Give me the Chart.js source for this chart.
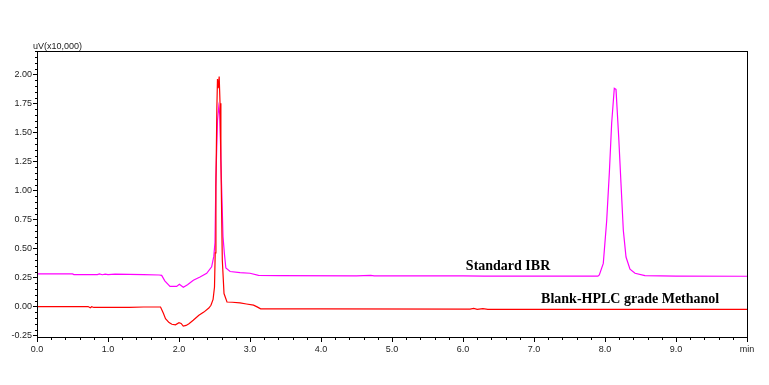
<!DOCTYPE html>
<html>
<head>
<meta charset="utf-8">
<script src="https://cdn.jsdelivr.net/npm/chart.js@4.4.0/dist/chart.umd.min.js"></script>
<style>
  body { margin: 0; background: #fff; }
</style>
</head>
<body>
<canvas id="myChart" width="769" height="385"></canvas>
<script>
const blankTime = [0.00, 0.72, 0.75, 0.77, 0.80, 1.30, 1.50, 1.74, 1.78, 1.81, 1.86, 1.90, 1.95, 2.00, 2.03, 2.06, 2.10, 2.14, 2.20, 2.28, 2.35, 2.42, 2.45, 2.48, 2.50, 2.51, 2.52, 2.533, 2.542, 2.552, 2.566, 2.578, 2.59, 2.61, 2.634, 2.676, 2.75, 2.86, 2.95, 3.05, 3.10, 3.15, 4.00, 6.10, 6.15, 6.20, 6.28, 6.35, 8.00, 10.0];
const blankSignal = [-0.002, -0.002, -0.012, -0.003, -0.01, -0.01, -0.006, -0.006, -0.06, -0.106, -0.14, -0.155, -0.16, -0.142, -0.148, -0.17, -0.165, -0.15, -0.12, -0.078, -0.05, -0.015, 0.009, 0.06, 0.166, 0.46, 1.03, 1.70, 1.96, 1.88, 1.98, 1.75, 1.26, 0.40, 0.11, 0.037, 0.035, 0.03, 0.02, 0.01, -0.005, -0.022, -0.023, -0.024, -0.018, -0.026, -0.02, -0.026, -0.026, -0.027];

const ibrTime = [0.00, 0.50, 0.52, 0.85, 0.88, 0.92, 0.96, 1.00, 1.10, 1.50, 1.72, 1.756, 1.80, 1.873, 1.967, 2.005, 2.061, 2.12, 2.202, 2.296, 2.39, 2.46, 2.49, 2.507, 2.52, 2.542, 2.56, 2.575, 2.597, 2.62, 2.64, 2.66, 2.72, 2.86, 3.00, 3.12, 3.40, 4.50, 4.70, 4.75, 6.00, 6.30, 7.90, 7.92, 7.976, 8.024, 8.061, 8.094, 8.131, 8.155, 8.193, 8.225, 8.258, 8.296, 8.352, 8.423, 8.563, 9.00, 10.0];
const ibrSignal = [0.279, 0.279, 0.273, 0.273, 0.279, 0.272, 0.278, 0.273, 0.277, 0.273, 0.270, 0.267, 0.22, 0.172, 0.172, 0.19, 0.165, 0.185, 0.224, 0.253, 0.284, 0.34, 0.43, 0.55, 1.11, 1.60, 1.72, 1.65, 1.10, 0.60, 0.45, 0.33, 0.30, 0.29, 0.285, 0.267, 0.265, 0.263, 0.267, 0.262, 0.262, 0.261, 0.260, 0.27, 0.37, 0.74, 1.15, 1.58, 1.88, 1.87, 1.46, 1.06, 0.655, 0.425, 0.32, 0.285, 0.265, 0.260, 0.259];

// etichette degli assi
const yTicks = [-0.25, 0.00, 0.25, 0.50, 0.75, 1.00, 1.25, 1.50, 1.75, 2.00];
const seriesNames = ['Blank-HPLC grade Methanol', 'Standard IBR'];
const yUnit = 'uV(x10,000)';
const xUnit = 'min';

const toPoints = (t, s) => t.map((v, i) => ({ x: v, y: s[i] }));

// cornice, tacche minori e scritte
const framePlugin = {
  id: 'frame',
  afterDraw(chart) {
    const ctx = chart.ctx;
    const a = chart.chartArea;
    const xs = chart.scales.x;
    const ys = chart.scales.y;
    ctx.save();
    ctx.strokeStyle = '#000';
    ctx.lineWidth = 1;
    ctx.strokeRect(a.left + 0.5, a.top + 0.5, a.right - a.left, a.bottom - a.top);

    ctx.beginPath();
    // tacche asse x ogni 0.2
    for (let i = 0; i <= 50; i++) {
      const px = Math.round(xs.getPixelForValue(i * 0.2)) + 0.5;
      const len = i % 5 === 0 ? 5 : 3;
      ctx.moveTo(px, a.bottom);
      ctx.lineTo(px, a.bottom + len);
    }
    // tacche asse y ogni 0.05
    for (let i = -5; i <= 44; i++) {
      const py = Math.round(ys.getPixelForValue(i * 0.05)) + 0.5;
      const len = i % 5 === 0 ? 4 : 2;
      ctx.moveTo(a.left, py);
      ctx.lineTo(a.left - len, py);
    }
    ctx.stroke();

    ctx.fillStyle = '#222';
    ctx.font = '9px "Liberation Sans", Arial, sans-serif';
    ctx.textAlign = 'left';
    ctx.textBaseline = 'alphabetic';
    ctx.fillText(yUnit, 33, 49);

    ctx.fillStyle = '#000';
    ctx.font = 'bold 14px "Liberation Serif", "Times New Roman", serif';
    ctx.fillText(seriesNames[1], xs.getPixelForValue(6.04), ys.getPixelForValue(0.31));
    ctx.fillText(seriesNames[0], xs.getPixelForValue(7.10), ys.getPixelForValue(0.025));
    ctx.restore();
  }
};

const ctx = document.getElementById('myChart').getContext('2d');
new Chart(ctx, {
  type: 'line',
  data: {
    datasets: [
      {
        label: seriesNames[0],
        data: toPoints(blankTime, blankSignal),
        borderColor: '#ff0000',
        borderWidth: 1.2,
        pointRadius: 0,
        tension: 0
      },
      {
        label: seriesNames[1],
        data: toPoints(ibrTime, ibrSignal),
        borderColor: '#ff00ff',
        borderWidth: 1.2,
        pointRadius: 0,
        tension: 0
      }
    ]
  },
  options: {
    responsive: false,
    devicePixelRatio: 1,
    animation: false,
    layout: { padding: { top: 51, right: 22, left: 0, bottom: 0 } },
    plugins: {
      legend: { display: false },
      tooltip: { enabled: false }
    },
    scales: {
      x: {
        type: 'linear',
        min: 0,
        max: 10,
        grid: { display: false, drawTicks: false },
        border: { display: false },
        ticks: {
          stepSize: 1,
          padding: 7,
          color: '#222',
          font: { family: '"Liberation Sans", Arial, sans-serif', size: 9 },
          maxRotation: 0,
          callback: v => v === 10 ? xUnit : v.toFixed(1)
        },
        afterFit: s => { s.height = 48; }
      },
      y: {
        type: 'linear',
        min: -0.2646,
        max: 2.2009,
        grid: { display: false, drawTicks: false },
        border: { display: false },
        afterBuildTicks: s => { s.ticks = yTicks.map(v => ({ value: v })); },
        ticks: {
          padding: 5,
          color: '#222',
          font: { family: '"Liberation Sans", Arial, sans-serif', size: 9 },
          callback: v => v.toFixed(2)
        },
        afterFit: s => { s.width = 37; }
      }
    }
  },
  plugins: [framePlugin]
});
</script>
</body>
</html>
